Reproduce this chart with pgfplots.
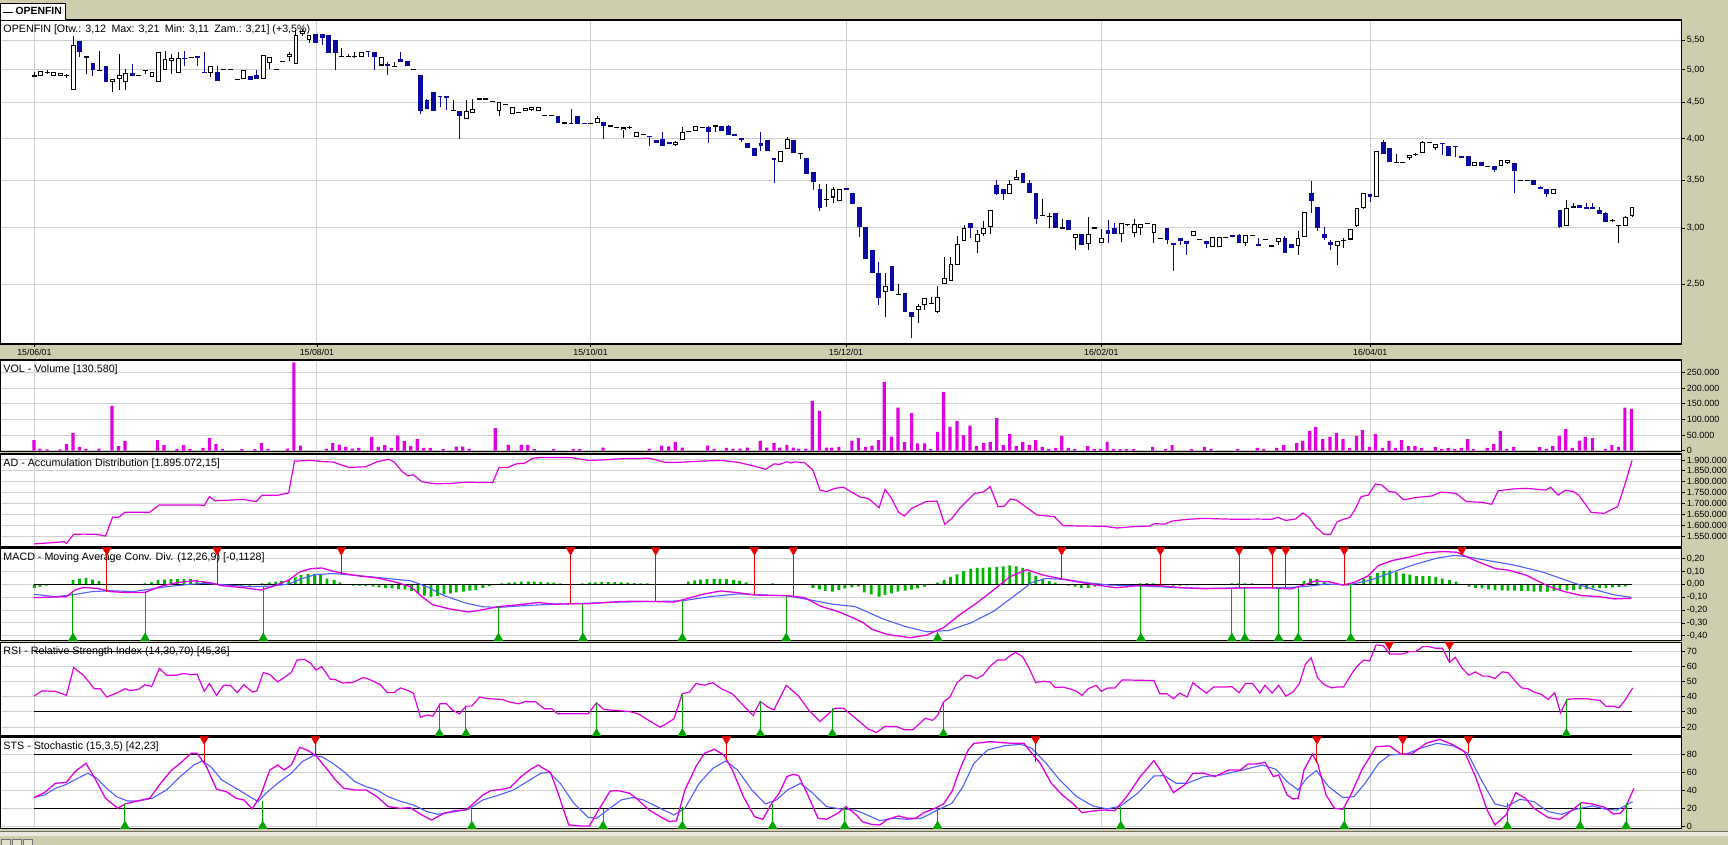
\documentclass[border=0pt]{standalone}
\usepackage{fontspec}
\setmainfont{Liberation Sans}
\usepackage{pgfplots}
\usepackage{pgfplotstable}
\pgfplotsset{compat=1.18}

\definecolor{bgtan}{RGB}{206,206,174}
\definecolor{gridgray}{RGB}{208,208,208}
\definecolor{cblue}{RGB}{10,10,160}
\definecolor{vmag}{RGB}{225,0,225}
\definecolor{sblue}{RGB}{80,95,255}
\definecolor{hgreen}{RGB}{0,180,0}
\definecolor{sred}{RGB}{235,0,0}
\definecolor{sgreen}{RGB}{0,165,0}

% candles, k = session number (0 = 15/06/01)
\pgfplotstableread{
k o h l c
1 4.90 4.98 4.90 4.98
3 4.90 4.97 4.90 4.97
4 4.90 4.95 4.90 4.95
6 4.68 5.57 4.68 5.41
12 4.81 4.86 4.66 4.86
13 4.86 5.27 4.69 4.91
14 4.80 5.02 4.69 4.95
18 4.89 4.96 4.89 4.96
19 4.80 5.30 4.80 5.30
20 5.00 5.31 5.00 5.17
21 5.15 5.27 4.94 5.19
22 4.95 5.29 4.95 5.20
27 4.95 5.06 4.89 5.06
32 4.85 5.00 4.85 5.00
35 4.85 5.24 4.85 5.24
36 5.11 5.21 5.01 5.21
39 5.21 5.30 5.14 5.27
40 5.10 5.69 5.10 5.60
41 5.61 5.71 5.57 5.66
42 5.51 5.60 5.46 5.60
50 5.21 5.30 5.21 5.30
53 5.07 5.21 5.07 5.21
66 4.26 4.53 4.26 4.38
67 4.35 4.55 4.35 4.41
71 4.37 4.50 4.30 4.50
73 4.34 4.43 4.34 4.43
75 4.37 4.42 4.37 4.42
76 4.39 4.43 4.37 4.43
77 4.37 4.43 4.37 4.43
86 4.21 4.31 4.21 4.28
90 4.11 4.15 4.01 4.15
92 4.02 4.09 4.02 4.09
98 3.92 3.97 3.91 3.96
99 3.99 4.15 3.99 4.09
101 4.10 4.17 4.10 4.17
114 3.71 3.85 3.71 3.85
115 3.87 4.03 3.87 4.00
122 3.31 3.43 3.25 3.40
123 3.27 3.40 3.27 3.40
130 2.44 2.59 2.25 2.49
135 2.30 2.35 2.21 2.33
136 2.34 2.39 2.30 2.39
138 2.29 2.49 2.28 2.40
139 2.50 2.73 2.50 2.55
140 2.53 2.73 2.53 2.67
141 2.66 2.92 2.66 2.85
142 2.88 3.03 2.88 3.00
144 2.87 2.98 2.77 2.94
145 2.94 3.07 2.92 3.00
146 3.01 3.18 2.94 3.18
149 3.35 3.50 3.35 3.46
150 3.50 3.62 3.50 3.54
159 2.90 2.94 2.79 2.94
161 2.85 3.11 2.79 2.94
163 2.86 2.99 2.86 2.90
166 2.94 3.05 2.87 3.05
168 2.95 3.09 2.91 3.04
169 3.00 3.04 2.93 3.04
171 2.95 3.04 2.86 3.04
177 2.92 2.97 2.92 2.97
180 2.82 2.91 2.82 2.91
181 2.82 2.91 2.82 2.91
185 2.86 2.93 2.83 2.93
190 2.87 2.90 2.84 2.90
193 2.83 2.97 2.75 2.90
194 2.91 3.16 2.91 3.16
199 2.83 2.88 2.66 2.88
201 2.89 2.99 2.89 2.99
202 3.02 3.20 3.01 3.20
203 3.20 3.36 3.19 3.36
205 3.32 3.85 3.32 3.85
210 3.76 3.80 3.74 3.80
212 3.82 3.97 3.82 3.96
214 3.89 3.93 3.86 3.93
220 3.66 3.71 3.66 3.71
224 3.66 3.74 3.66 3.74
225 3.70 3.74 3.69 3.74
232 3.35 3.40 3.35 3.40
234 3.02 3.28 3.02 3.20
243 3.02 3.12 3.02 3.11
244 3.12 3.21 3.11 3.21
}\upc

\pgfplotstableread{
k o h l c
7 5.49 5.49 5.21 5.30
9 5.11 5.11 4.90 4.99
11 5.06 5.06 4.81 4.81
15 4.95 5.09 4.90 4.90
23 5.20 5.31 5.06 5.17
25 5.225 5.225 5.07 5.20
26 4.965 5.29 4.945 4.945
28 4.96 5.06 4.82 4.82
33 4.90 4.90 4.84 4.84
34 4.91 5.00 4.85 4.85
43 5.61 5.61 5.46 5.46
44 5.61 5.62 5.41 5.55
45 5.59 5.59 5.28 5.28
46 5.51 5.51 4.99 5.28
51 5.31 5.31 5.21 5.29
52 5.29 5.29 5.00 5.21
54 5.09 5.13 4.91 5.06
56 5.17 5.29 5.12 5.12
57 5.14 5.14 5.06 5.06
59 4.92 4.92 4.34 4.37
60 4.53 4.55 4.40 4.40
61 4.65 4.65 4.38 4.38
62 4.60 4.60 4.44 4.58
63 4.59 4.59 4.39 4.57
65 4.38 4.38 4.00 4.30
80 4.31 4.31 4.21 4.21
82 4.215 4.40 4.195 4.195
83 4.30 4.30 4.20 4.20
84 4.215 4.215 4.195 4.195
87 4.22 4.22 4.00 4.17
94 4.04 4.04 3.91 4.02
95 3.98 3.98 3.95 3.95
96 4.00 4.09 3.91 3.91
97 3.96 3.96 3.93 3.93
103 4.15 4.17 3.95 4.09
105 4.17 4.17 4.10 4.10
106 4.17 4.19 4.05 4.05
107 4.06 4.06 4.04 4.04
108 4.01 4.01 3.96 3.99
109 3.95 3.95 3.89 3.89
110 3.89 3.89 3.78 3.78
111 3.95 4.09 3.85 3.91
112 3.99 3.99 3.85 3.85
113 3.76 3.76 3.47 3.74
116 3.99 3.99 3.82 3.82
118 3.76 3.76 3.57 3.57
119 3.59 3.59 3.39 3.48
120 3.40 3.46 3.17 3.20
124 3.41 3.41 3.39 3.39
125 3.36 3.36 3.24 3.24
126 3.21 3.21 2.91 3.01
127 3.01 3.01 2.71 2.71
128 2.79 2.79 2.59 2.59
129 2.59 2.69 2.34 2.39
131 2.65 2.65 2.45 2.45
133 2.43 2.43 2.29 2.29
134 2.29 2.29 2.10 2.25
143 3.05 3.05 2.90 3.00
147 3.45 3.50 3.34 3.35
148 3.40 3.40 3.28 3.35
151 3.58 3.58 3.47 3.47
152 3.47 3.50 3.36 3.36
153 3.36 3.36 3.04 3.09
156 3.15 3.15 3.00 3.00
158 3.08 3.08 2.98 2.98
160 2.94 2.94 2.84 2.84
164 2.98 3.08 2.86 2.94
165 3.00 3.05 2.94 2.94
173 3.00 3.00 2.85 2.89
174 2.86 2.86 2.61 2.84
175 2.90 2.90 2.84 2.88
176 2.88 2.88 2.75 2.85
179 2.88 2.88 2.81 2.85
183 2.93 2.93 2.91 2.91
184 2.93 2.94 2.86 2.86
187 2.845 2.90 2.83 2.83
191 2.90 2.92 2.77 2.77
192 2.85 2.85 2.81 2.81
195 3.36 3.49 3.15 3.27
196 3.21 3.21 2.97 3.00
197 2.94 3.01 2.89 2.90
198 2.87 2.89 2.79 2.84
204 3.35 3.35 3.26 3.32
206 3.96 3.98 3.81 3.81
207 3.88 3.88 3.71 3.71
215 3.95 3.95 3.80 3.93
216 3.91 3.91 3.78 3.78
217 3.915 3.915 3.77 3.895
218 3.785 3.785 3.765 3.765
219 3.78 3.78 3.66 3.66
221 3.71 3.71 3.66 3.66
223 3.67 3.67 3.60 3.62
226 3.70 3.70 3.36 3.61
229 3.50 3.50 3.45 3.45
230 3.42 3.44 3.40 3.40
231 3.40 3.40 3.32 3.35
233 3.18 3.18 3.00 3.01
236 3.23 3.23 3.20 3.20
237 3.21 3.25 3.19 3.19
238 3.205 3.25 3.19 3.19
239 3.18 3.21 3.14 3.14
240 3.15 3.16 3.06 3.06
}\downc

\pgfplotstableread{
k p h l
0 4.90 4.96 4.90
2 4.96 4.99 4.94
5 4.91 4.93 4.87
8 5.21 5.21 4.94
10 4.99 5.31 4.99
16 4.91 4.91 4.91
17 4.99 4.99 4.93
24 5.20 5.20 5.20
29 5.00 5.00 5.00
30 5.00 5.00 5.00
31 4.85 4.85 4.85
37 5.01 5.01 5.01
38 5.13 5.13 5.13
47 5.22 5.36 5.22
48 5.22 5.27 5.22
49 5.22 5.30 5.19
55 5.06 5.12 5.06
58 5.01 5.01 5.01
64 4.38 4.54 4.38
68 4.55 4.55 4.55
69 4.55 4.55 4.55
70 4.51 4.51 4.51
72 4.47 4.47 4.47
74 4.36 4.36 4.36
78 4.31 4.31 4.31
79 4.31 4.31 4.31
81 4.21 4.21 4.21
85 4.20 4.20 4.20
88 4.17 4.17 4.17
89 4.15 4.15 4.15
91 4.15 4.17 4.13
93 4.06 4.06 4.06
100 4.10 4.10 4.10
102 4.15 4.15 4.15
104 4.17 4.17 4.09
117 3.82 3.82 3.75
121 3.29 3.46 3.21
132 2.42 2.50 2.42
137 2.35 2.40 2.35
154 3.12 3.29 3.12
155 3.11 3.15 3.00
157 3.00 3.09 3.00
162 3.00 3.00 3.00
167 3.03 3.04 3.02
170 3.04 3.04 3.04
172 2.90 2.90 2.90
178 2.89 2.89 2.89
182 2.91 2.91 2.91
186 2.93 2.93 2.93
188 2.89 2.89 2.89
189 2.83 2.83 2.83
200 2.88 2.90 2.81
208 3.71 3.81 3.71
209 3.71 3.71 3.71
211 3.80 3.82 3.78
213 3.95 3.95 3.95
222 3.66 3.66 3.66
227 3.50 3.50 3.50
228 3.50 3.50 3.50
235 3.21 3.25 3.21
241 3.07 3.09 3.06
242 3.02 3.02 2.86
}\flatc

% signals: x, value of the line where the signal fires
\pgfplotstableread{
x v
11.2 -0.056
28.2 -0.005
47.3 0.085
82.6 -0.154
95.7 -0.133
110.9 -0.082
116.9 -0.087
158.2 0.046
173.4 -0.010
185.5 -0.031
190.6 -0.026
192.7 -0.031
201.7 -0.005
219.8 0.226
}\macdsell
\pgfplotstableread{
x v
6.0 -0.064
17.1 -0.064
35.3 -0.018
71.5 -0.172
84.5 -0.151
99.8 -0.128
115.8 -0.087
139.1 -0.369
170.4 -0.005
184.4 -0.026
186.4 -0.026
191.6 -0.026
194.6 -0.031
202.7 0.0
}\macdbuy
\pgfplotstableread{
x v
208.6 68.2
217.9 62.7
}\rsisell
\pgfplotstableread{
x v
62.4 35.3
66.5 33.8
86.6 36.0
99.8 42.0
111.8 36.9
122.9 32.4
140.0 36.4
235.9 38.2
}\rsibuy
\pgfplotstableread{
x v
26.2 71.9
43.3 78.5
106.6 73.7
154.2 71.9
197.5 70.0
210.7 79.3
220.8 81.1
}\stssell
\pgfplotstableread{
x v
14.0 24.8
35.2 28.1
67.4 18.9
87.6 19.3
99.8 21.1
113.7 24.8
124.8 21.1
139.1 20.0
167.3 21.9
201.7 20.0
226.8 25.6
238.0 26.3
245.1 25.6
}\stsbuy

\pgfplotsset{
  panel/.style={
    scale only axis, width=840.5pt, anchor=north west,
    axis background/.style={fill=white},
    xmin=-5.16, xmax=253.62,
    xtick={0.06,43.55,85.67,125.0,164.3,205.7},
    xmajorgrids, ymajorgrids,
    major grid style={draw=gridgray, line width=0.5pt},
    axis line style={line width=0.8pt},
    tick align=outside, major tick length=1.5pt,
    tick style={black, line width=0.4pt},
    ytick pos=right, yticklabel pos=right,
    yticklabel style={font=\fontsize{4.5}{5}\selectfont, inner xsep=1pt},
    scaled y ticks=false,
  },
  lower/.style={panel, xticklabels={}, xmajorticks=false},
  ebar/.style={draw=none, mark=none, forget plot,
    error bars/y explicit, error bars/error mark=none},
  sell/.style={only marks, mark=triangle*, mark size=2.4pt, forget plot,
    mark options={rotate=180, fill=sred, draw=sred}},
  buy/.style={only marks, mark=triangle*, mark size=2.4pt, forget plot,
    mark options={fill=sgreen, draw=sgreen}},
}
\tikzset{ptitle/.style={anchor=north west, inner sep=0pt, xshift=1.3pt,
  yshift=-2.2pt, font=\fontsize{5.35}{6}\selectfont}}

\begin{document}
\begin{tikzpicture}
\useasboundingbox (0,0) rectangle (864pt,-422.5pt);
\fill[bgtan] (0,0) rectangle (864pt,-422.5pt);
\fill[white!55!bgtan] (0,-416.1pt) rectangle (864pt,-418.2pt);
\draw[black!45!bgtan, line width=0.5pt] (0,-415.7pt) -- (864pt,-415.7pt);
\foreach \bx in {0.5,6,11.5}
  \draw[black!55, fill=white!40!bgtan, line width=0.4pt] (\bx pt,-419.8pt) rectangle ++(4.5pt,-4pt);

% ---------- price ----------
\begin{axis}[panel, at={(0.25pt,-10pt)}, height=162pt,
  ymode=log, ymin=2.062, ymax=5.873,
  ytick={2.5,3,3.5,4,4.5,5,5.5},
  yticklabels={{2,50},{3,00},{3,50},{4,00},{4,50},{5,00},{5,50}},
  yminorticks=false,
  xtick pos=left,
  xticklabels={15/06/01,15/08/01,15/10/01,15/12/01,16/02/01,16/04/01},
  xticklabel style={font=\fontsize{4.4}{5}\selectfont, inner ysep=1pt},
  legend style={at={(0,1)}, anchor=north west, yshift=8.3pt, draw=black,
    line width=0.5pt, fill=white, inner xsep=0.8pt, inner ysep=0pt,
    nodes={inner ysep=1.5pt, inner xsep=1pt},
    font=\fontsize{5.2}{5.6}\selectfont\bfseries},
  legend image code/.code={\draw[black,line width=0.5pt] (0pt,0pt) -- (5pt,0pt);},
]
\addlegendimage{black}
\addlegendentry{OPENFIN}
% wicks
\addplot[ebar, error bars/.cd, y dir=plus, error bar style={draw=black, line width=0.5pt}]
  table[x expr=1.0082*\thisrow{k}, y=l, y error plus expr=\thisrow{h}-\thisrow{l}] {\upc};
\addplot[ebar, error bars/.cd, y dir=plus, error bar style={draw=black, line width=0.5pt}]
  table[x expr=1.0082*\thisrow{k}, y=l, y error plus expr=\thisrow{h}-\thisrow{l}] {\flatc};
\addplot[ebar, error bars/.cd, y dir=plus, error bar style={draw=cblue, line width=0.5pt}]
  table[x expr=1.0082*\thisrow{k}, y=l, y error plus expr=\thisrow{h}-\thisrow{l}] {\downc};
% bodies
\addplot[ebar, error bars/.cd, y dir=plus, error bar style={draw=cblue, line width=2.4pt}]
  table[x expr=1.0082*\thisrow{k}, y=c, y error plus expr=\thisrow{o}-\thisrow{c}] {\downc};
\addplot[ebar, error bars/.cd, y dir=plus, error bar style={draw=black, line width=2.4pt}]
  table[x expr=1.0082*\thisrow{k}, y=o, y error plus expr=\thisrow{c}-\thisrow{o}] {\upc};
\addplot[ebar, error bars/.cd, y dir=plus, error bar style={draw=white, line width=1.4pt}]
  table[x expr=1.0082*\thisrow{k}, y expr=\thisrow{o}*1.0033,
        y error plus expr=\thisrow{c}/1.0033-\thisrow{o}*1.0033] {\upc};
\addplot[only marks, mark=-, mark size=1.25pt, forget plot, mark options={black, line width=0.6pt}]
  table[x expr=1.0082*\thisrow{k}, y=p] {\flatc};
\node[ptitle] at (rel axis cs:0,1) {OPENFIN [Otw.: 3,12\enspace Max: 3,21\enspace Min: 3,11\enspace Zam.: 3,21] (+3,5\%)};
\end{axis}

% ---------- volume ----------
\begin{axis}[lower, at={(0.25pt,-180pt)}, height=45.75pt,
  ymin=-2560, ymax=289800,
  ytick={0,50000,100000,150000,200000,250000},
  yticklabels={0,50.000,100.000,150.000,200.000,250.000}]
\addplot[ybar, bar width=1.6pt, fill=vmag, draw=none] coordinates {
(0,34000)(0.9,7000)(2,4000)(4,4000)(5,21000)(6,56000)(7,12000)(8,5000)(10,7000)
(12,143000)(13,15000)(14,31000)(19,34000)(20,18000)(22,6000)(23,18000)(24,6000)
(26,9000)(27,40000)(28,21000)(29,5000)(32,5000)(34,5000)(35,24000)(36,6000)
(39,7000)(40,282000)(41,16000)(45,6000)(46,24000)(47,19000)(48,12000)(49,7000)
(50,9000)(52,44000)(53,12000)(54,18000)(55,9000)(56,48000)(57,31000)(58,15000)
(59,37000)(60,9000)(61,9000)(63,5000)(65,13000)(66,13000)(67,6000)(71,72000)
(73,19000)(75,19000)(76,19000)(77,5000)(80,5000)(83,5000)(84,5000)(87.6,10000)
(94.7,6000)(96.6,16000)(97.7,14000)(98.7,28000)(99.8,10000)(103.7,16000)(104.7,6000)
(106.6,9000)(107.6,6000)(108.7,7000)(109.8,10000)(111.8,31000)(112.8,10000)
(113.9,24000)(114.8,10000)(115.9,19000)(116.9,10000)(117.7,6000)(118.8,6000)
(119.8,159000)(120.9,127000)(122,10000)(122.8,10000)(123.9,12000)(125.9,31000)
(126.9,40000)(128,12000)(129,16000)(130,34000)(130.9,220000)(132,45000)(133,138000)
(134,27000)(135.1,120000)(136,23000)(137.1,23000)(138,5000)(139.1,60000)(140,188000)
(141,76000)(142.1,95000)(143.1,50000)(144.1,80000)(145.1,15000)(146.2,24000)
(147.2,28000)(148.2,104000)(149.2,18000)(150.2,53000)(151.2,15000)(152.2,28000)
(153.2,18000)(154.2,34000)(155.2,12000)(156.2,5000)(157.3,9000)(158.2,47000)
(159.2,9000)(160.2,5000)(162.2,15000)(163.2,5000)(164.2,5000)(165.2,28000)
(166.2,5000)(167.2,5000)(168.2,5000)(169.3,5000)(172.2,12000)(174.2,5000)
(175.2,18000)(178.2,5000)(180.2,12000)(181.2,5000)(185.3,5000)(188.3,9000)
(189.3,5000)(191.3,9000)(192.4,18000)(194.4,24000)(195.3,31000)(196.4,63000)
(197.3,76000)(198.4,37000)(199.5,44000)(200.5,56000)(201.5,37000)(202.5,9000)
(203.6,47000)(204.5,66000)(205.6,12000)(206.5,53000)(207.6,9000)(208.6,31000)
(209.6,9000)(210.5,34000)(211.6,15000)(212.6,15000)(213.6,9000)(215.7,12000)
(216.7,5000)(217.7,9000)(218.7,5000)(219.7,9000)(220.7,37000)(221.6,5000)
(223.7,9000)(224.7,21000)(225.7,63000)(226.7,5000)(227.8,12000)(231.8,12000)
(232.8,5000)(233.8,15000)(234.8,47000)(235.8,69000)(236.8,9000)(237.9,31000)
(238.8,44000)(239.9,40000)(241.9,5000)(242.9,18000)(243.9,12000)(244.9,138000)
(245.9,133000)};
\node[ptitle] at (rel axis cs:0,1) {VOL - Volume [130.580]};
\end{axis}

% ---------- accumulation / distribution ----------
\begin{axis}[lower, at={(0.25pt,-226.9pt)}, height=46.45pt,
  ymin=1502300, ymax=1928400,
  ytick={1550000,1600000,1650000,1700000,1750000,1800000,1850000,1900000},
  yticklabels={1.550.000,1.600.000,1.650.000,1.700.000,1.750.000,1.800.000,1.850.000,1.900.000}]
\addplot[vmag, line width=0.6pt] coordinates {
(0,1515000)(2.9,1521000)(4.6,1525000)(5,1518000)(6.1,1559000)(7.6,1560000)
(9.7,1559000)(11,1551000)(12.1,1638000)(13,1637000)(14,1660000)(17.8,1660000)
(19.3,1694000)(25.5,1694000)(26.2,1690000)(27,1732000)(27.9,1713000)(32.3,1719000)
(34.2,1709000)(35.1,1738000)(37.5,1738000)(39.2,1749000)(40.1,1895000)(42.6,1898000)
(44.7,1892000)(46,1891000)(48.4,1866000)(51.1,1869000)(52.8,1892000)(54.6,1903000)
(55.4,1892000)(56.7,1846000)(57.6,1827000)(58.4,1832000)(59.7,1800000)(61.8,1791000)
(64,1792000)(66.5,1798000)(70.6,1796000)(71.6,1866000)(72.9,1865000)(74.2,1882000)
(75.5,1885000)(76.8,1908000)(78.1,1912000)(82.7,1911000)(85.3,1898000)(87.4,1900000)
(90.4,1906000)(94.7,1908000)(97.3,1888000)(99.8,1890000)(102.8,1895000)(105.8,1898000)
(108.4,1889000)(110.9,1872000)(112.6,1857000)(113.9,1882000)(114.8,1880000)
(115.9,1892000)(116.5,1886000)(117.1,1891000)(118.6,1888000)(119.9,1854000)
(121,1762000)(122,1755000)(123.3,1770000)(124.6,1775000)(126.2,1747000)(127.2,1730000)
(128.4,1724000)(130.1,1681000)(131,1765000)(132,1724000)(133.1,1660000)(134,1643000)
(135.1,1678000)(137.3,1709000)(139,1712000)(140.2,1605000)(141.3,1632000)(142.5,1678000)
(144.8,1747000)(146.1,1752000)(147.2,1778000)(148.4,1686000)(149.4,1689000)
(150.3,1721000)(151.3,1715000)(154.4,1648000)(157.1,1640000)(158.4,1599000)
(161.4,1597000)(164.8,1596000)(166.7,1588000)(169.1,1594000)(171.7,1597000)
(172.5,1608000)(174.1,1606000)(175.2,1620000)(177.6,1628000)(180.1,1632000)
(185,1628000)(188.4,1629000)(190.6,1628000)(191.4,1637000)(192.7,1623000)
(194.2,1629000)(195.3,1657000)(196.3,1636000)(197.4,1590000)(198.6,1559000)
(199.6,1559000)(200.6,1617000)(201.7,1629000)(202.6,1637000)(203.4,1675000)
(204.3,1732000)(205.4,1739000)(206.5,1790000)(207.5,1785000)(208.6,1755000)
(209.6,1752000)(210.8,1717000)(212.7,1728000)(215.2,1735000)(216.5,1752000)
(218,1750000)(219,1745000)(220.5,1709000)(222.8,1706000)(224.4,1697000)(225.4,1759000)
(227.6,1767000)(229.7,1770000)(232.7,1762000)(233.5,1775000)(234.6,1739000)
(235.7,1761000)(237,1755000)(237.8,1739000)(239.7,1660000)(241.7,1655000)
(243,1675000)(243.8,1686000)(244.8,1778000)(246,1898000)};
\node[ptitle] at (rel axis cs:0,1) {AD - Accumulation Distribution [1.895.072,15]};
\end{axis}

% ---------- MACD ----------
\begin{axis}[lower, at={(0.25pt,-273.85pt)}, height=46.4pt,
  ymin=-0.437, ymax=0.286,
  ytick={-0.4,-0.3,-0.2,-0.1,0,0.1,0.2},
  yticklabels={{-0,40},{-0,30},{-0,20},{-0,10},{0,00},{0,10},{0,20}}]
\addplot[ybar, bar width=1.4pt, fill=hgreen, draw=none] coordinates {
(0.06,-0.026)(0.9,-0.018)(1.9,-0.010)(6.0,0.033)(7.0,0.046)(8.0,0.051)(9.0,0.038)
(10.0,0.026)(17.1,0.008)(18.1,0.015)(19.1,0.033)(20.1,0.038)(21.1,0.041)(22.1,0.041)
(23.1,0.041)(24.1,0.041)(25.1,0.036)(26.1,0.026)(27.0,0.013)(28.1,0.005)(31.9,-0.010)
(33.2,-0.010)(35.1,0.008)(36.2,0.015)(37.2,0.021)(38.1,0.026)(39.2,0.038)(40.2,0.054)
(41.1,0.072)(42.2,0.082)(43.2,0.082)(44.1,0.072)(45.1,0.046)(46.2,0.033)(47.1,0.015)
(49.2,-0.010)(50.1,-0.010)(51.1,-0.013)(52.2,-0.015)(53.1,-0.023)(54.1,-0.026)
(55.1,-0.031)(56.1,-0.036)(57.1,-0.038)(58.1,-0.051)(59.1,-0.069)(60.1,-0.087)
(61.1,-0.095)(62.1,-0.090)(63.1,-0.077)(64.1,-0.069)(65.0,-0.062)(66.1,-0.056)
(67.1,-0.049)(68.0,-0.044)(69.1,-0.026)(70.1,-0.013)(72.0,0.008)(73.1,0.013)
(74.0,0.015)(75.0,0.021)(76.1,0.021)(77.0,0.021)(78.0,0.018)(79.1,0.015)(80.0,0.013)
(81.0,0.008)(84.4,0.008)(85.5,0.013)(86.4,0.015)(87.4,0.018)(88.4,0.018)(89.4,0.018)
(90.4,0.015)(91.4,0.013)(92.4,0.010)(93.4,0.008)(94.4,0.008)(100.7,0.021)(101.7,0.031)
(102.6,0.038)(103.6,0.041)(104.7,0.044)(105.6,0.044)(106.6,0.041)(107.7,0.036)
(108.6,0.028)(109.6,0.015)(113.7,0.008)(119.9,-0.026)(120.9,-0.038)(121.8,-0.051)
(122.9,-0.056)(123.9,-0.044)(124.8,-0.031)(125.9,-0.023)(126.9,-0.015)(127.8,-0.062)
(128.9,-0.077)(130.1,-0.095)(131.0,-0.082)(132.0,-0.069)(133.0,-0.056)(134.1,-0.049)
(135.1,-0.041)(136.0,-0.031)(137.1,-0.018)(138.1,-0.005)(139.1,0.013)(140.1,0.036)
(141.1,0.059)(142.1,0.079)(143.1,0.103)(144.2,0.123)(145.2,0.128)(146.1,0.128)
(147.1,0.133)(148.2,0.136)(149.2,0.141)(150.2,0.149)(151.2,0.141)(152.2,0.128)
(153.2,0.097)(154.2,0.064)(155.3,0.046)(156.3,0.026)(157.2,0.013)(159.3,-0.010)
(160.3,-0.018)(161.2,-0.026)(162.3,-0.026)(163.3,-0.018)(164.2,-0.010)(165.3,-0.005)
(170.3,0.008)(171.3,0.010)(172.3,0.008)(175.4,-0.010)(176.4,-0.010)(177.4,-0.008)
(184.4,0.008)(185.4,0.008)(186.4,0.008)(187.5,0.008)(195.5,0.026)(196.5,0.046)
(197.5,0.041)(198.6,0.026)(204.7,0.046)(205.7,0.067)(206.8,0.087)(207.8,0.103)
(208.7,0.108)(209.7,0.097)(210.8,0.085)(211.8,0.077)(212.8,0.064)(213.8,0.064)
(214.8,0.064)(215.8,0.059)(216.8,0.046)(217.9,0.033)(218.9,0.021)(220.9,-0.018)
(221.9,-0.026)(222.9,-0.031)(223.9,-0.038)(224.9,-0.044)(226.0,-0.046)(226.9,-0.049)
(227.9,-0.049)(229.0,-0.051)(230.0,-0.051)(230.9,-0.056)(231.9,-0.056)(233.0,-0.056)
(234.0,-0.051)(234.9,-0.049)(236.0,-0.046)(237.0,-0.044)(238.0,-0.038)(239.0,-0.036)
(240.0,-0.031)(241.0,-0.026)(242.0,-0.026)(243.0,-0.023)(244.0,-0.021)(245.0,-0.015)};
\addplot[black, line width=0.6pt] coordinates {(0,0) (246,0)};
\addplot[sblue, line width=0.55pt] coordinates {
(0,-0.077)(3.3,-0.095)(5.9,-0.082)(8.9,-0.056)(11.8,-0.049)(15.2,-0.056)(17.8,-0.038)
(20.4,-0.018)(23.8,0.0)(26.4,0.008)(29.8,-0.005)(33.2,-0.018)(36.6,-0.013)(39.2,0.003)
(41.3,0.046)(43.4,0.077)(46.0,0.085)(50.3,0.067)(54.5,0.046)(58.0,0.028)(60.5,-0.018)
(63.1,-0.087)(66.5,-0.146)(69.1,-0.174)(71.6,-0.179)(75.9,-0.164)(80.2,-0.154)
(85.3,-0.146)(90.4,-0.138)(95.5,-0.133)(99.8,-0.128)(104.1,-0.095)(108.4,-0.074)
(112.6,-0.082)(116.0,-0.090)(119.5,-0.121)(122.9,-0.154)(126.3,-0.172)(127.2,-0.190)
(130.6,-0.267)(134.0,-0.326)(137.4,-0.369)(140.8,-0.359)(144.2,-0.300)(147.7,-0.210)
(151.1,-0.082)(153.6,0.015)(155.8,0.046)(158.8,0.038)(162.2,0.013)(165.6,-0.005)
(169.9,-0.010)(175.0,-0.023)(180.1,-0.031)(187.0,-0.026)(192.1,-0.026)(195.5,-0.018)
(198.9,0.003)(202.3,-0.005)(205.7,0.033)(209.2,0.097)(212.6,0.156)(216.0,0.205)
(218.6,0.226)(220.3,0.218)(223.7,0.187)(228.0,0.149)(232.2,0.097)(236.5,0.021)
(239.9,-0.036)(243.3,-0.082)(245.9,-0.100)};
\addplot[vmag, line width=0.65pt] coordinates {
(0,-0.103)(5,-0.095)(6.3,-0.044)(7.6,-0.023)(9.7,-0.031)(11.8,-0.056)(14.4,-0.064)
(17.1,-0.062)(19.5,-0.015)(22.1,0.015)(24.6,0.028)(27.2,0.013)(28.9,-0.010)(32.3,-0.026)
(34.9,-0.044)(36.6,-0.018)(39.2,0.033)(40.9,0.097)(42.6,0.123)(44.3,0.128)(46.0,0.103)
(47.7,0.085)(50.3,0.064)(52.8,0.051)(55.4,0.021)(58.0,-0.018)(59.7,-0.095)(61.4,-0.159)
(63.9,-0.190)(66.9,-0.215)(69.1,-0.197)(71.6,-0.172)(74.6,-0.159)(77.6,-0.141)
(80.2,-0.154)(82.7,-0.151)(85.3,-0.151)(87.8,-0.141)(90.4,-0.133)(92.9,-0.131)
(95.5,-0.133)(98.5,-0.138)(100.7,-0.108)(103.2,-0.074)(105.8,-0.051)(108.3,-0.064)
(110.9,-0.082)(113.5,-0.087)(116.0,-0.087)(118.6,-0.103)(121.2,-0.172)(123.7,-0.210)
(126.3,-0.265)(127.7,-0.300)(129.0,-0.350)(131.4,-0.390)(134.9,-0.415)(137.4,-0.395)
(140.0,-0.338)(142.5,-0.236)(145.1,-0.146)(147.7,-0.044)(150.2,0.059)(152.8,0.115)
(155.4,0.072)(157.9,0.046)(160.5,0.021)(163.0,0.0)(166.5,-0.026)(169.9,-0.010)
(173.3,-0.010)(176.7,-0.026)(180.1,-0.033)(183.5,-0.031)(187.0,-0.026)(190.4,-0.026)
(193.4,-0.036)(195.5,-0.005)(197.2,0.026)(199.3,0.021)(201.5,-0.005)(203.2,0.015)
(205.3,0.064)(207.0,0.149)(209.2,0.187)(211.7,0.213)(214.3,0.246)(216.9,0.256)
(219.0,0.251)(220.3,0.221)(222.4,0.174)(225.0,0.123)(227.1,0.110)(229.7,0.072)
(233.1,-0.013)(235.6,-0.056)(238.2,-0.087)(240.8,-0.095)(243.3,-0.113)(245.9,-0.108)};
\addplot[ebar, error bars/.cd, y dir=plus, error bar style={draw=sred, line width=0.5pt}]
  table[x=x, y=v, y error plus expr=0.286-\thisrow{v}] {\macdsell};
\addplot[ebar, error bars/.cd, y dir=minus, error bar style={draw=sgreen, line width=0.5pt}]
  table[x=x, y=v, y error minus expr=\thisrow{v}+0.437] {\macdbuy};
\addplot[sell] table[x=x, y expr=0.267] {\macdsell};
\addplot[buy] table[x=x, y expr=-0.418] {\macdbuy};
\node[ptitle] at (rel axis cs:0,1) {MACD - Moving Average Conv. Div. (12,26,9) [-0,1128]};
\end{axis}

% ---------- RSI ----------
\begin{axis}[lower, at={(0.25pt,-321.15pt)}, height=46.85pt,
  ymin=14.06, ymax=75.94,
  ytick={20,30,40,50,60,70}, yticklabels={20,30,40,50,60,70}]
\addplot[black, line width=0.6pt] coordinates {(0,70) (246,70)};
\addplot[black, line width=0.6pt] coordinates {(0,30) (246,30)};
\addplot[vmag, line width=0.6pt] coordinates {
(0,40.4)(1.2,43.8)(3.3,43.6)(5.0,40.9)(6.1,59.3)(7.6,54.2)(9.3,45.3)(10.2,45.3)(11.2,39.8)
(12.7,42.4)(14.0,45.3)(14.8,44.0)(16.1,44.9)(17.1,48.0)(18.1,46.7)(19.3,58.7)(20.4,54.2)
(21.9,54.2)(22.9,55.3)(24.2,54.7)(25.1,54.9)(26.2,43.6)(27.0,48.7)(28.1,40.9)(29.2,47.6)
(30.2,47.6)(31.3,42.7)(32.3,48.0)(33.6,43.1)(34.3,43.8)(35.3,56.0)(36.3,54.7)(37.5,49.8)
(38.3,52.0)(39.6,56.0)(40.5,64.2)(41.6,64.7)(42.6,62.0)(43.4,57.6)(44.3,59.8)(45.6,51.6)
(46.4,51.3)(47.5,49.1)(49.0,49.3)(50.7,52.7)(51.7,51.3)(53.3,48.0)(54.4,42.7)(55.4,42.7)
(56.4,45.8)(57.5,44.2)(58.4,42.4)(59.5,26.4)(60.5,28.0)(61.4,27.1)(62.5,35.3)(63.5,35.3)
(64.5,30.9)(65.5,28.7)(66.5,33.8)(67.4,33.8)(68.6,39.8)(69.9,38.7)(72.1,38.2)(73.3,36.4)
(74.6,35.3)(75.5,36.7)(77.2,36.7)(78.6,32.0)(79.7,32.0)(80.6,28.7)(85.3,28.7)(86.6,36.0)
(87.7,31.6)(89.6,30.9)(91.7,30.2)(93.0,28.7)(94.7,24.2)(96.4,19.8)(98.5,25.3)(99.8,42.0)
(100.9,43.1)(101.9,48.7)(103.2,47.6)(104.5,49.3)(105.8,45.3)(107.5,42.0)(109.2,34.2)
(110.7,27.6)(111.8,36.9)(113.0,33.1)(113.9,31.3)(115.8,47.6)(117.7,40.4)(119.3,30.9)
(121.0,23.6)(122.0,27.6)(123.3,32.4)(124.6,32.4)(126.3,26.4)(127.2,23.1)(128.4,18.7)
(129.7,16.4)(131.0,20.4)(132.7,20.4)(134.0,18.2)(135.3,18.2)(137.2,25.8)(138.3,24.4)
(139.1,27.6)(140.0,36.4)(141.0,39.8)(142.1,49.3)(143.4,54.2)(144.2,53.8)(145.1,52.0)
(146.1,54.2)(147.1,59.8)(148.3,64.2)(149.4,64.2)(150.2,66.9)(151.1,69.3)(152.2,66.4)
(153.2,58.7)(154.2,49.3)(155.3,50.2)(156.4,49.8)(157.2,46.0)(158.3,46.4)(159.4,45.3)
(160.5,43.6)(161.3,40.9)(162.3,45.3)(163.5,47.6)(164.3,43.6)(165.3,45.8)(166.4,45.8)
(167.5,51.1)(172.4,50.7)(173.3,42.0)(174.4,42.0)(175.4,38.7)(176.4,42.4)(177.5,39.8)
(178.4,49.3)(179.4,45.8)(180.5,42.4)(181.6,46.4)(183.5,46.4)(184.4,46.7)(185.5,42.7)
(186.5,48.7)(187.6,48.7)(188.7,42.4)(189.5,47.6)(190.6,42.4)(191.6,47.6)(192.7,40.4)
(193.8,43.1)(194.8,48.7)(195.7,61.3)(196.6,65.8)(197.6,52.4)(198.6,48.0)(199.8,45.8)
(200.6,46.4)(201.6,46.4)(202.7,54.2)(203.6,59.8)(204.7,64.2)(205.6,63.6)(206.6,74.2)
(207.7,73.8)(208.7,68.2)(210.7,68.2)(211.7,69.8)(212.7,69.8)(213.8,73.1)(214.7,73.1)
(215.8,72.0)(216.8,72.0)(217.9,62.7)(218.8,66.0)(219.8,59.1)(220.9,54.2)(221.9,56.4)
(223.0,53.6)(223.9,53.6)(224.9,52.0)(226.0,56.4)(226.9,56.0)(227.9,50.9)(229.0,45.8)
(230.0,45.3)(230.9,43.1)(232.0,41.6)(233.1,38.2)(234.1,42.7)(235.0,29.3)(236.0,38.2)
(237.1,38.7)(239.0,38.7)(240.1,38.0)(241.1,37.6)(242.0,33.6)(243.1,33.8)(244.0,32.7)
(245.0,38.2)(246.1,45.8)};
\addplot[ebar, error bars/.cd, y dir=plus, error bar style={draw=sred, line width=0.5pt}]
  table[x=x, y=v, y error plus expr=75.94-\thisrow{v}] {\rsisell};
\addplot[ebar, error bars/.cd, y dir=minus, error bar style={draw=sgreen, line width=0.5pt}]
  table[x=x, y=v, y error minus expr=\thisrow{v}-14.06] {\rsibuy};
\addplot[sell] table[x=x, y expr=74.35] {\rsisell};
\addplot[buy] table[x=x, y expr=15.65] {\rsibuy};
\node[ptitle] at (rel axis cs:0,1) {RSI - Relative Strength Index (14,30,70) [45,36]};
\end{axis}

% ---------- stochastic ----------
\begin{axis}[lower, at={(0.25pt,-368.4pt)}, height=45.85pt,
  ymin=-2.44, ymax=99.44,
  ytick={0,20,40,60,80}, yticklabels={0,20,40,60,80}]
\addplot[black, line width=0.6pt] coordinates {(0,80) (246,80)};
\addplot[black, line width=0.6pt] coordinates {(0,20) (246,20)};
\addplot[sblue, line width=0.55pt] coordinates {
(0,31.9)(1.6,34.8)(3.3,42.2)(5.0,46.7)(6.7,53.3)(8.3,58.9)(9.7,53.3)(11.0,43.3)(12.7,33.0)
(14.4,28.1)(16.1,28.1)(18.2,31.1)(20.4,40.4)(22.5,55.2)(24.6,68.1)(25.9,72.6)(27.2,66.3)
(28.9,51.5)(31.1,42.2)(33.2,33.0)(34.5,27.4)(35.7,36.7)(37.5,47.8)(39.6,58.9)(41.3,71.9)
(43.0,78.5)(44.3,77.4)(46.0,70.0)(47.7,60.7)(49.4,49.6)(51.1,44.1)(52.8,40.4)(54.5,33.0)
(56.3,28.1)(58.4,23.7)(60.5,16.3)(62.2,13.3)(64.8,16.3)(66.9,18.9)(69.1,29.3)(71.6,34.8)
(73.8,40.4)(75.9,49.6)(78.0,58.9)(79.3,60.0)(81.0,47.8)(83.1,25.6)(85.3,10.0)(86.6,8.9)
(88.3,18.1)(90.4,29.3)(92.1,31.9)(93.8,29.3)(96.4,20.0)(98.5,12.6)(100.2,20.0)(102.4,47.8)
(104.5,64.4)(106.5,72.6)(108.3,62.6)(110.5,40.4)(112.6,24.8)(114.3,29.3)(116.0,40.4)
(118.0,47.8)(119.9,36.7)(122.0,21.9)(124.1,19.3)(126.3,18.1)(127.5,15.0)(130.2,6.3)
(132.3,8.9)(134.4,7.8)(136.6,8.9)(139.1,18.1)(141.3,25.6)(143.0,44.1)(144.7,70.0)
(146.8,84.8)(149.4,89.6)(151.9,91.1)(153.6,86.7)(155.8,70.0)(157.9,51.5)(160.5,33.0)
(163.0,22.6)(165.2,19.3)(167.3,22.6)(169.9,36.7)(172.4,55.9)(174.0,56.3)(175.8,47.8)
(177.5,47.8)(180.1,55.2)(182.7,57.0)(186.1,62.6)(189.1,68.1)(191.2,63.3)(192.9,49.6)
(194.6,40.4)(195.9,53.3)(197.4,61.9)(199.3,44.1)(201.5,31.9)(203.2,33.0)(204.9,47.8)
(207.0,70.0)(208.7,79.3)(211.3,80.4)(213.4,86.7)(216.0,92.2)(218.5,89.3)(220.7,81.1)
(222.8,51.5)(224.9,24.8)(226.6,21.9)(228.8,30.0)(230.9,27.4)(233.1,16.3)(235.2,13.3)
(237.3,18.9)(239.9,22.6)(242.0,18.9)(243.7,18.1)(246.1,27.4)};
\addplot[vmag, line width=0.65pt] coordinates {
(0,31.9)(1.6,37.4)(3.3,47.8)(5.0,48.9)(6.3,60.7)(8.0,70.0)(9.5,51.5)(11.0,31.1)(12.9,20.0)
(14.0,24.8)(16.1,28.5)(17.8,31.1)(19.5,47.8)(21.1,61.9)(22.5,70.0)(24.2,81.1)(25.1,81.1)
(26.5,67.0)(28.1,41.1)(29.6,38.5)(31.1,31.1)(32.3,29.3)(33.6,19.3)(34.9,34.8)(36.3,62.6)
(37.5,68.1)(38.5,62.6)(39.6,68.1)(40.9,87.8)(42.2,84.1)(43.4,78.5)(45.2,62.6)(46.4,51.5)
(47.7,42.2)(49.4,40.4)(51.1,40.4)(52.8,33.0)(54.5,21.9)(56.3,20.0)(57.9,20.7)(59.7,12.6)
(61.2,7.0)(63.1,14.4)(64.8,17.4)(66.5,18.1)(67.4,23.7)(69.1,34.8)(70.3,39.6)(72.0,41.1)
(73.3,43.0)(75.0,55.2)(76.3,62.6)(77.6,68.1)(78.4,64.4)(79.5,60.0)(80.6,38.5)(82.3,1.5)
(84.0,0.4)(85.5,0.4)(87.0,19.3)(88.7,39.3)(90.0,39.6)(91.7,36.7)(93.0,29.3)(94.7,18.1)
(96.4,10.7)(97.8,5.2)(98.9,6.3)(100.2,40.4)(101.9,66.3)(103.2,81.1)(104.7,85.6)(106.2,79.3)
(107.5,62.6)(109.2,33.0)(110.9,10.7)(112.2,7.8)(113.5,24.8)(114.7,36.7)(115.9,55.2)
(116.9,57.8)(117.7,56.3)(119.0,36.7)(120.7,8.9)(122.0,7.8)(123.7,14.4)(125.0,21.9)
(126.7,12.0)(127.5,5.2)(128.9,2.2)(130.2,1.5)(131.4,7.8)(133.1,11.5)(134.4,8.9)(135.7,8.9)
(137.0,15.2)(138.7,20.0)(140.0,24.8)(141.3,38.5)(142.5,62.6)(143.8,84.8)(144.7,92.2)
(146.0,93.0)(147.2,94.1)(148.9,93.0)(150.6,92.2)(152.4,92.2)(153.6,81.1)(154.9,70.0)
(156.6,47.8)(158.3,34.8)(160.0,24.8)(161.3,15.2)(163.0,17.0)(164.7,18.1)(166.4,17.4)
(168.2,33.0)(170.3,55.2)(172.4,73.0)(173.7,58.9)(175.4,37.4)(177.1,45.9)(178.4,58.9)
(180.1,58.9)(181.8,55.2)(183.9,62.6)(185.7,62.6)(186.9,69.3)(188.2,69.3)(189.5,71.1)
(190.8,55.2)(191.6,57.0)(192.9,34.8)(193.8,30.4)(194.6,31.1)(195.5,62.6)(196.8,80.0)
(197.6,70.0)(198.9,34.8)(200.2,20.0)(201.5,18.9)(202.7,34.8)(204.4,62.6)(206.6,88.5)
(208.7,89.3)(210.4,80.4)(212.1,80.4)(214.3,92.2)(216.4,96.7)(218.5,90.4)(220.2,83.0)
(221.9,55.2)(223.7,18.1)(224.9,1.5)(226.6,12.6)(228.1,37.4)(229.6,31.1)(230.9,20.0)
(233.1,9.6)(234.9,7.8)(236.5,16.3)(238.2,26.3)(239.9,24.8)(241.8,21.1)(243.1,13.7)
(244.2,14.4)(245.0,21.1)(246.3,42.2)};
\addplot[ebar, error bars/.cd, y dir=plus, error bar style={draw=sred, line width=0.5pt}]
  table[x=x, y=v, y error plus expr=99.44-\thisrow{v}] {\stssell};
\addplot[ebar, error bars/.cd, y dir=minus, error bar style={draw=sgreen, line width=0.5pt}]
  table[x=x, y=v, y error minus expr=\thisrow{v}+2.44] {\stsbuy};
\addplot[sell] table[x=x, y expr=96.77] {\stssell};
\addplot[buy] table[x=x, y expr=0.23] {\stsbuy};
\node[ptitle] at (rel axis cs:0,1) {STS - Stochastic (15,3,5) [42,23]};
\end{axis}
\end{tikzpicture}
\end{document}
